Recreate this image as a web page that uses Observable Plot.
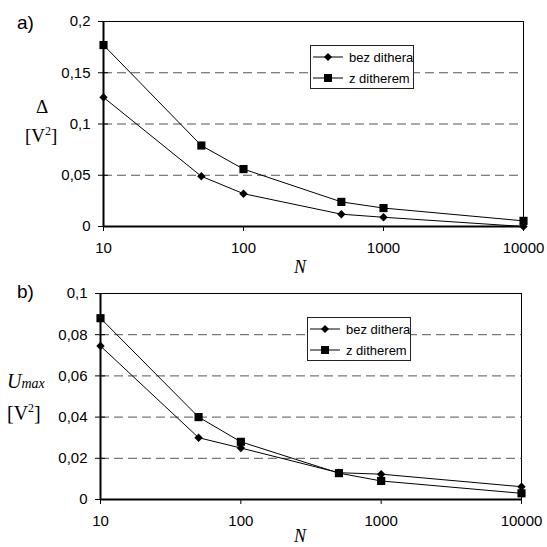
<!DOCTYPE html>
<html>
<head>
<meta charset="utf-8">
<script src="https://cdn.jsdelivr.net/npm/d3@7"></script>
<script src="https://cdn.jsdelivr.net/npm/@observablehq/plot@0.6"></script>
<style>
  html, body { margin: 0; background: #fff; overflow: hidden; }
  #wrap { position: relative; width: 547px; height: 547px; overflow: hidden; background: #fff; }
  .abs { position: absolute; white-space: nowrap; line-height: 1; }
  .sans { font-family: "Liberation Sans", Arial, sans-serif; }
  .serif { font-family: "Liberation Serif", "Times New Roman", serif; }
  .legend { position: absolute; background: #fff; border: 1px solid #222; box-sizing: border-box;
            font-family: "Liberation Sans", Arial, sans-serif; font-size: 13px; color: #000; white-space: nowrap; }
  .legend .row { position: absolute; left: 2px; height: 14px; display: flex; align-items: center; white-space: nowrap; }
  .legend svg { margin-right: 6px; flex: none; }
</style>
</head>
<body>
<div id="wrap"></div>
<script>
// ---- data ----
const N = [10, 50, 100, 500, 1000, 10000];
const seriesNames = ["bez dithera", "z ditherem"];
const deltaBez = [0.126, 0.049, 0.032, 0.012, 0.009, 0.0];
const deltaZ   = [0.177, 0.079, 0.056, 0.024, 0.018, 0.0055];
const umaxBez  = [0.0745, 0.030, 0.025, 0.013, 0.0123, 0.0062];
const umaxZ    = [0.088, 0.040, 0.028, 0.0128, 0.009, 0.003];
const xTicks = [10, 100, 1000, 10000];
const yTicksA = [0, 0.05, 0.1, 0.15, 0.2];
const yTicksB = [0, 0.02, 0.04, 0.06, 0.08, 0.1];

const fmtY = d => d === 0 ? "0" : String(+d.toFixed(4)).replace(".", ",");
const fmtX = d => String(d);

function panel(bez, z, yTicks, yMax, dims) {
  const rows = (arr, s) => N.map((n, i) => ({N: n, v: arr[i], s}));
  const dBez = rows(bez, seriesNames[0]);
  const dZ = rows(z, seriesNames[1]);
  return Plot.plot({
    width: 547,
    height: dims.height,
    marginLeft: dims.left,
    marginRight: dims.right,
    marginTop: dims.top,
    marginBottom: dims.bottom,
    style: {fontFamily: "'Liberation Sans', Arial, sans-serif", fontSize: "15px", color: "#000", background: "transparent"},
    x: {type: "log", domain: [10, 10000]},
    y: {domain: [0, yMax]},
    marks: [
      Plot.gridY(yTicks.slice(1, -1), {stroke: "#555", strokeOpacity: 1, strokeDasharray: "9,5"}),
      Plot.frame({stroke: "#000", strokeWidth: 1}),
      Plot.axisY({ticks: yTicks, tickFormat: fmtY, tickSize: 10, dx: 5, tickPadding: 8, fontSize: 15, label: null, stroke: "#000"}),
      Plot.axisX({ticks: xTicks, tickFormat: fmtX, tickSize: 5, tickPadding: 11, fontSize: 15, label: null, stroke: "#000"}),
      Plot.ruleX([10], {stroke: "#000", strokeWidth: 2}),
      Plot.ruleY([0], {stroke: "#000", strokeWidth: 2}),
      Plot.line(dBez, {x: "N", y: "v", stroke: "#000", strokeWidth: 1}),
      Plot.line(dZ, {x: "N", y: "v", stroke: "#000", strokeWidth: 1}),
      Plot.dot(dBez, {x: "N", y: "v", symbol: "diamond2", r: 3.8, fill: "#000", stroke: "none"}),
      Plot.dot(dZ, {x: "N", y: "v", symbol: "square", r: 4.6, fill: "#000", stroke: "none"})
    ]
  });
}

const wrap = document.getElementById("wrap");

function place(el, top) {
  el.style.position = "absolute";
  el.style.left = "0px";
  el.style.top = top + "px";
  wrap.appendChild(el);
}

const pA = panel(deltaBez, deltaZ, yTicksA, 0.2, {height: 270, left: 103, right: 24, top: 21, bottom: 44});
place(pA, 0);
const pB = panel(umaxBez, umaxZ, yTicksB, 0.1, {height: 277, left: 100, right: 26, top: 23, bottom: 48});
place(pB, 270);

function addText(html, cls, left, top, size, extra) {
  const d = document.createElement("div");
  d.className = "abs " + cls;
  d.style.left = left + "px";
  d.style.top = top + "px";
  d.style.fontSize = size + "px";
  if (extra) Object.assign(d.style, extra);
  d.innerHTML = html;
  wrap.appendChild(d);
  return d;
}

// panel labels
addText("a)", "sans", 17, 13, 19);
addText("b)", "sans", 17, 282, 19);

// y labels
addText("&Delta;", "serif", 36, 97, 19);
addText("[V<span style='font-size:12px;position:relative;top:-7px'>2</span>]", "serif", 25, 126, 19);
addText("<i>U</i><i style='font-size:14px'>max</i>", "serif", 7, 371, 20);
addText("[V<span style='font-size:12px;position:relative;top:-8px'>2</span>]", "serif", 7, 403, 20);

// x labels
addText("<i>N</i>", "serif", 294, 258, 18);
addText("<i>N</i>", "serif", 294, 527, 18);

// legends
function legend(left, top) {
  const box = document.createElement("div");
  box.className = "legend";
  box.style.left = left + "px";
  box.style.top = top + "px";
  box.style.width = "104px";
  box.style.height = "44px";
  const syms = [
    "<polygon points='15,1 19,5 15,9 11,5' fill='#000'/>",
    "<rect x='11' y='1' width='8' height='8' fill='#000'/>"
  ];
  seriesNames.forEach((name, i) => {
    const r = document.createElement("div");
    r.className = "row";
    r.style.top = (4 + i * 21) + "px";
    r.innerHTML = "<svg width='30' height='10'><line x1='0' y1='5' x2='30' y2='5' stroke='#000' stroke-width='1'/>" + syms[i] + "</svg><span>" + name + "</span>";
    box.appendChild(r);
  });
  wrap.appendChild(box);
}
legend(310, 45);
legend(307, 317);
</script>
</body>
</html>
